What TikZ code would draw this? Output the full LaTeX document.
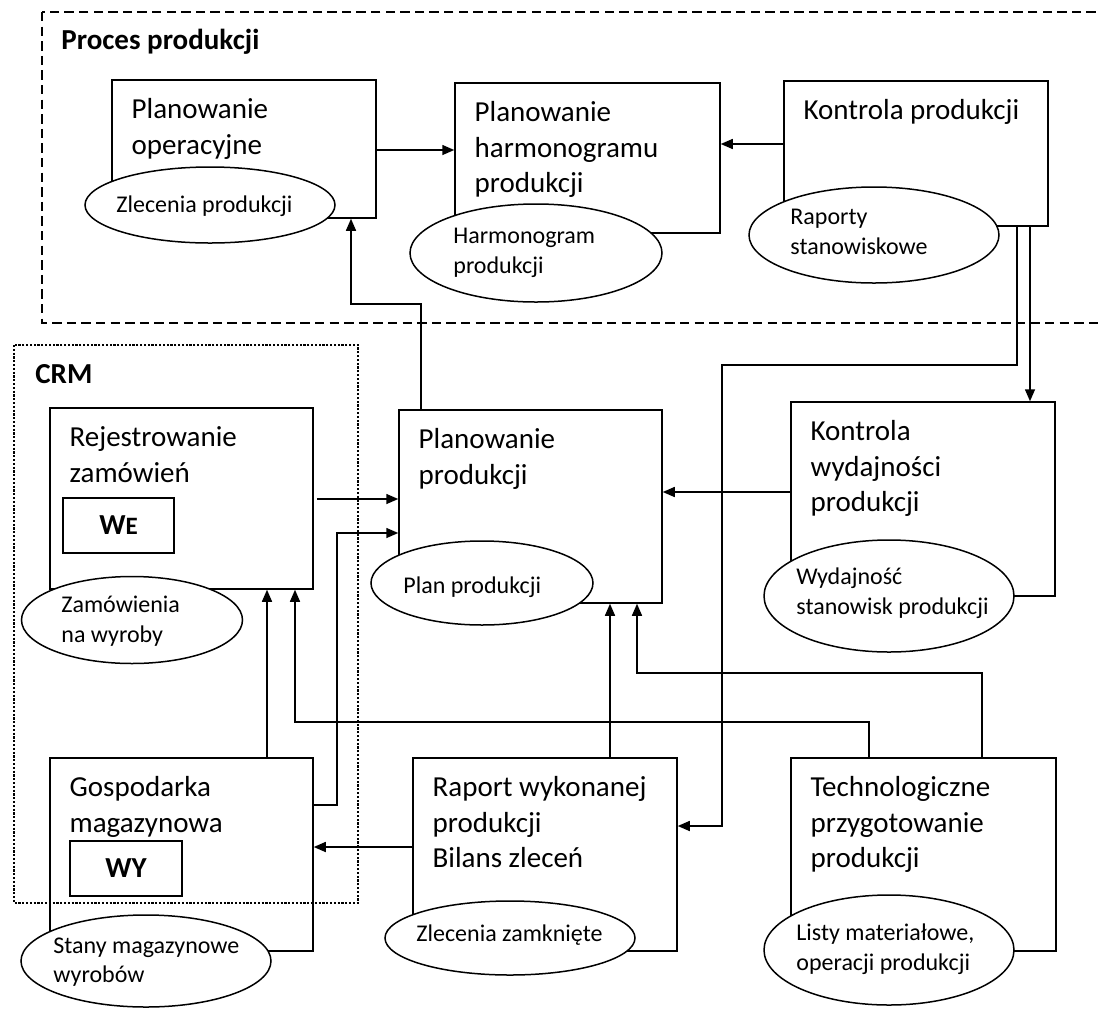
\documentclass[tikz,border=0pt]{standalone}
\usepackage{fontspec}
\setmainfont{Carlito}
\usetikzlibrary{arrows.meta,shapes.geometric}
\begin{document}
\begin{tikzpicture}[x=0.5pt,y=-0.5pt,
  box/.style 2 args={draw=black, line width=0.75pt, rectangle, inner sep=0pt,
    minimum width=#1*0.5pt, minimum height=#2*0.5pt},
  tagbox/.style={draw=black, line width=1.4pt, rectangle, inner sep=0pt,
    minimum width=111*0.5pt, minimum height=55*0.5pt,
    font=\fontsize{14.5}{17}\selectfont\bfseries},
  ell/.style 2 args={draw=black, ellipse, fill=white, line width=0.75pt, inner sep=0pt,
    minimum width=#1*0.5pt, minimum height=#2*0.5pt},
  btxt/.style={anchor=north west, inner sep=0pt, align=left,
    font=\fontsize{14.5}{17.8}\selectfont},
  etxt/.style={anchor=west, inner sep=0pt, align=left,
    font=\fontsize{12}{14.8}\selectfont},
  ttl/.style={anchor=base west, inner sep=0pt, font=\fontsize{14.5}{17}\selectfont\bfseries},
  arr/.style={line width=0.75pt, -{Triangle[length=6pt,width=5pt]}},
  procframe/.style={line width=0.8pt, dash pattern=on 4.7pt off 2.6pt},
  crmframe/.style={line width=1.3pt, dash pattern=on 1.1pt off 0.8pt},
]
\useasboundingbox (0,0) rectangle (1099,1008);

% process boxes
\node[box={264}{138}] (po) at (244,149) {};
\node[box={265}{150}] (ph) at (587.5,158) {};
\node[box={264}{145}] (kp) at (916,153.5) {};
\node[box={263}{193}] (pp) at (530.5,506.5) {};
\node[box={263}{181}] (rz) at (181.5,498.5) {};
\node[box={264}{194}] (kw) at (923,499) {};
\node[box={263}{193}] (gm) at (181.5,854.5) {};
\node[box={264}{193}] (rw) at (545,854.5) {};
\node[box={265}{193}] (tp) at (923.5,854.5) {};

% box captions
\node[btxt] (po-t) at ([shift={(20,14)}]po.north west) {\strut Planowanie\\operacyjne};
\node[btxt] (ph-t) at ([shift={(20,14)}]ph.north west) {\strut Planowanie\\harmonogramu\\produkcji};
\node[btxt] (kp-t) at ([shift={(20,14)}]kp.north west) {\strut Kontrola produkcji};
\node[btxt] (pp-t) at ([shift={(20,14)}]pp.north west) {\strut Planowanie\\produkcji};
\node[btxt] (rz-t) at ([shift={(20,14)}]rz.north west) {\strut Rejestrowanie\\zamówień};
\node[btxt] (kw-t) at ([shift={(20,14)}]kw.north west) {\strut Kontrola\\wydajności\\produkcji};
\node[btxt] (gm-t) at ([shift={(20,14)}]gm.north west) {\strut Gospodarka\\magazynowa};
\node[btxt] (rw-t) at ([shift={(20,14)}]rw.north west) {\strut Raport wykonanej\\produkcji\\Bilans zleceń};
\node[btxt] (tp-t) at ([shift={(20,14)}]tp.north west) {\strut Technologiczne\\przygotowanie\\produkcji};

% input / output tags
\node[tagbox] (we) at (118.5,525.5) {W{\fontsize{12.5}{14}\selectfont E}};
\node[tagbox, minimum width=112*0.5pt] (wy) at (126,868.5) {WY};

% document ellipses
\node[ell={250}{76}] (e1) at (210,205) {};
\node[etxt] (e1-t) at (116,206) {Zlecenia produkcji};
\node[ell={252}{98}] (e2) at (536,253) {};
\node[etxt] (e2-t) at (453,253) {Harmonogram\\produkcji};
\node[ell={250}{96}] (e3) at (874,235) {};
\node[etxt] (e3-t) at (790,232) {Raporty\\stanowiskowe};
\node[ell={221}{87}] (e4) at (132,620) {};
\node[etxt] (e4-t) at (61,621) {Zamówienia\\na wyroby};
\node[ell={222}{84}] (e5) at (482,583) {};
\node[etxt] (e5-t) at (403,587) {Plan produkcji};
\node[ell={250}{112}] (e6) at (889,596) {};
\node[etxt] (e6-t) at (796,593) {Wydajność\\stanowisk produkcji};
\node[ell={250}{92}] (e7) at (146,961) {};
\node[etxt] (e7-t) at (53,962) {Stany magazynowe\\wyrobów};
\node[ell={250}{74}] (e8) at (510,938) {};
\node[etxt] (e8-t) at (416,935) {Zlecenia zamknięte};
\node[ell={250}{110}] (e9) at (889,950) {};
\node[etxt] (e9-t) at (796,949) {Listy materiałowe,\\operacji produkcji};

% bend points
\coordinate (j1) at (421,304);
\coordinate (k1) at (722,365);
\coordinate (g1) at (337,533);
\coordinate (t1) at (295,722);
\coordinate (t2) at (637,673);

% connectors
\draw[arr] (po.east |- 0,150) -- (ph.west |- 0,150);
\draw[arr] (kp.west |- 0,144) -- (ph.east |- 0,144);
\draw[arr] (j1 |- pp.north) -- (j1) -| (po.south -| 351,0);
\draw[arr] (kp.south -| 1017,0) |- (k1) |- (rw.east |- 0,826);
\draw[arr] (kp.south -| 1030,0) -- (kw.north -| 1030,0);
\draw[arr] (kw.west |- 0,492) -- (pp.east |- 0,492);
\draw[arr] ([xshift=1.5pt]rz.east |- 0,499) -- (pp.west |- 0,499);
\draw[arr] (gm.east |- 0,805) -| (g1) -- (pp.west |- g1);
\draw[arr] (gm.north -| 267,0) -- (rz.south -| 267,0);
\draw[arr] (tp.north -| 869,0) |- (t1) -- (rz.south -| t1);
\draw[arr] (rw.north -| 610,0) -- (pp.south -| 610,0);
\draw[arr] (tp.north -| 982,0) |- (t2) -- (pp.south -| t2);
\draw[arr] (rw.west |- 0,847) -- (gm.east |- 0,847);

% group frames
\draw[procframe] (42,12) rectangle (1112,323);
\draw[crmframe] (14,345) rectangle (358,903);
\node[ttl] (proc-title) at (61,49) {Proces produkcji};
\node[ttl] (crm-title) at (35,383) {CRM};
\end{tikzpicture}
\end{document}
